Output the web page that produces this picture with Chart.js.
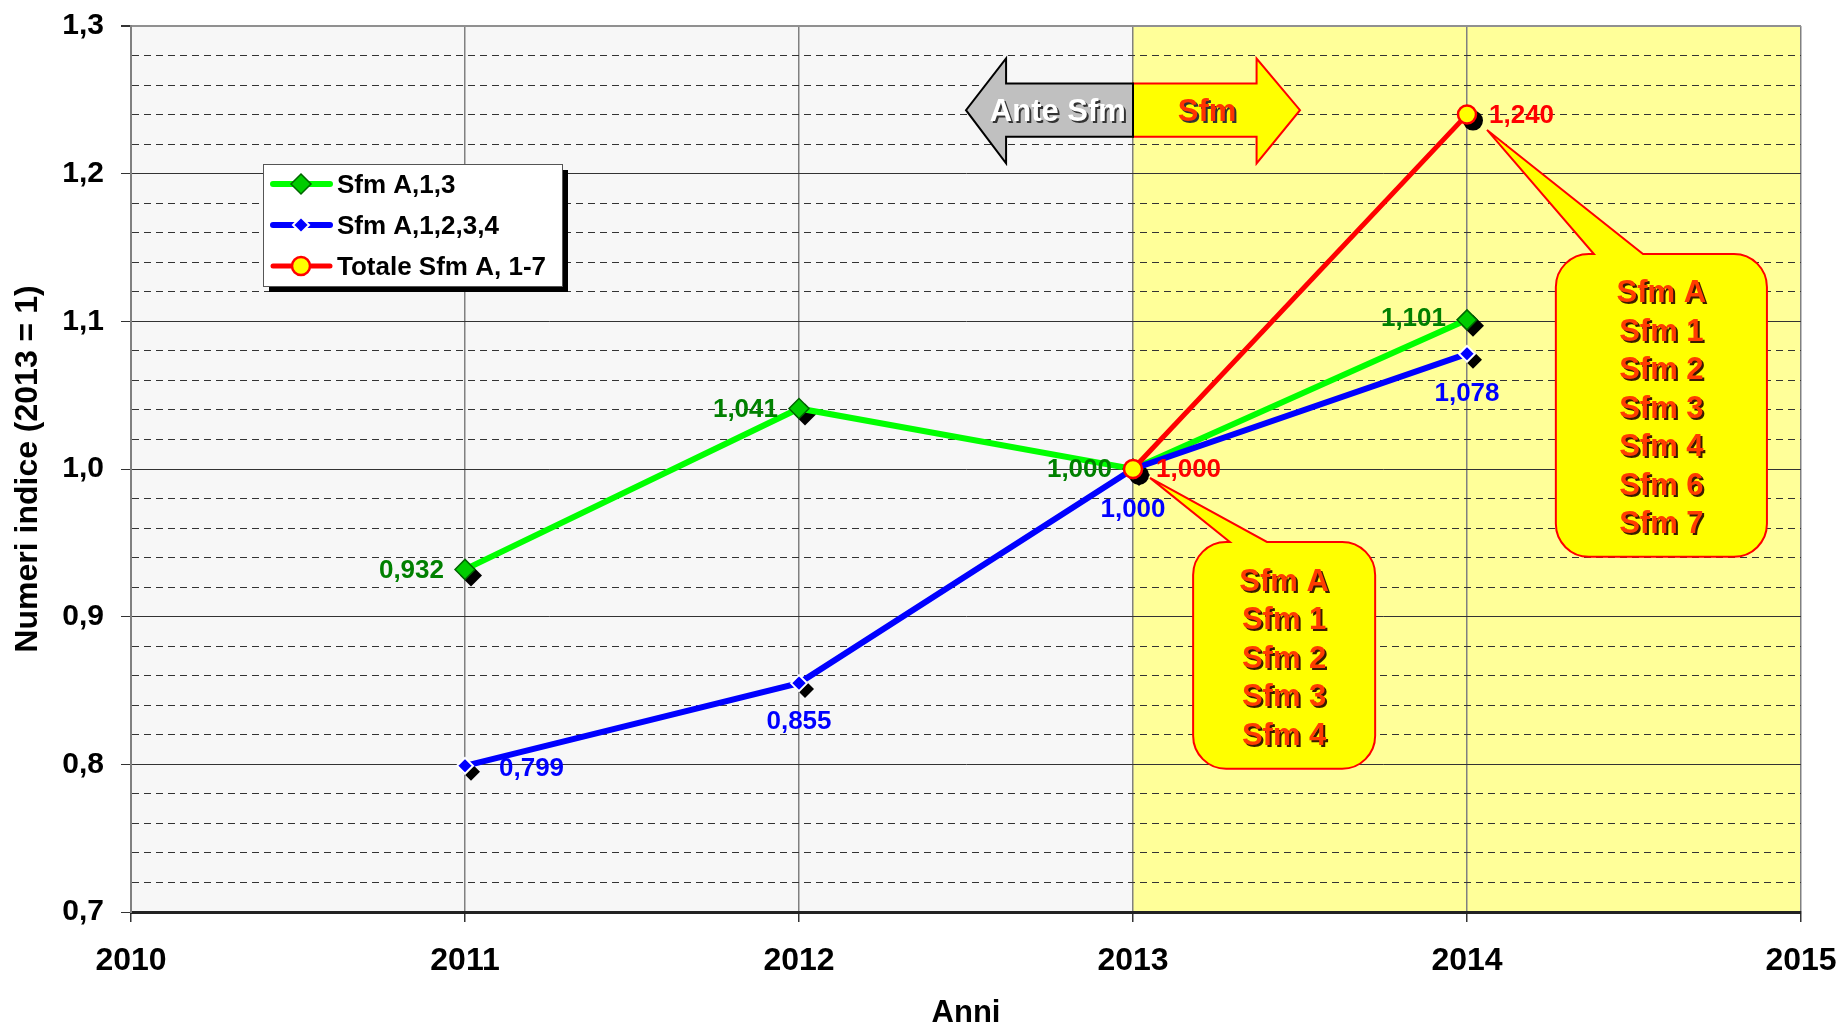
<!DOCTYPE html>
<html>
<head>
<meta charset="utf-8">
<script src="https://cdn.jsdelivr.net/npm/chart.js@4.4.1/dist/chart.umd.min.js"></script>
<style>
body{margin:0;background:#fff;}
#wrap{width:1838px;height:1029px;}
</style>
</head>
<body>
<div id="wrap"><canvas id="chart"></canvas></div>
<script>
// dati
const anni = [2011, 2012, 2013, 2014];
const sfmA13 = [0.932, 1.041, 1.000, 1.101];
const sfmA1234 = [0.799, 0.855, 1.000, 1.078];
const anniTotale = [2013, 2014];
const totaleSfmA = [1.000, 1.240];
const yMajor = [0.7, 0.8, 0.9, 1.0, 1.1, 1.2, 1.3];
const fumetto1 = ['Sfm A', 'Sfm 1', 'Sfm 2', 'Sfm 3', 'Sfm 4'];
const fumetto2 = ['Sfm A', 'Sfm 1', 'Sfm 2', 'Sfm 3', 'Sfm 4', 'Sfm 6', 'Sfm 7'];

const FONT = "'Liberation Sans', Arial, sans-serif";
Chart.defaults.font.family = FONT;
Chart.defaults.color = '#000';

function punti(xs, ys){
	return xs.map((x, i) => ({x: x, y: ys[i]}));
}
function isMajor(v){
	return yMajor.some(m => Math.abs(m - v) < 1e-6);
}
function virgola(v, d){
	return v.toFixed(d).replace('.', ',');
}
function rombo(ctx, x, y, r){
	ctx.beginPath();
	ctx.moveTo(x, y - r);
	ctx.lineTo(x + r, y);
	ctx.lineTo(x, y + r);
	ctx.lineTo(x - r, y);
	ctx.closePath();
}
function cerchio(ctx, x, y, r){
	ctx.beginPath();
	ctx.arc(x, y, r, 0, Math.PI * 2);
	ctx.closePath();
}
function forma(ctx, stile, x, y, r){
	if(stile === 'circle') cerchio(ctx, x, y, r);
	else rombo(ctx, x, y, r);
}
function testoOmbra(ctx, txt, x, y, col, ombra){
	ctx.fillStyle = ombra;
	ctx.fillText(txt, x + 2, y + 2);
	ctx.fillStyle = col;
	ctx.fillText(txt, x, y);
}

// sfondo grigio / giallo
const sfondo = {
	id: 'sfondo',
	beforeDraw(chart){
		const {ctx, chartArea: a, scales: {x}} = chart;
		const x13 = x.getPixelForValue(2013);
		ctx.save();
		ctx.fillStyle = '#f7f7f7';
		ctx.fillRect(a.left, a.top, x13 - a.left, a.height);
		ctx.fillStyle = '#ffff99';
		ctx.fillRect(x13, a.top, a.right - x13, a.height);
		ctx.restore();
	}
};

// frecce, fumetti e ombre dei marker
const annotazioni = {
	id: 'annotazioni',
	beforeDatasetsDraw(chart){
		const {ctx, scales: {x, y}} = chart;
		const px = v => x.getPixelForValue(v);
		const py = v => y.getPixelForValue(v);
		ctx.save();

		// frecce
		const sT = py(1.261), sB = py(1.225), hT = py(1.278), hB = py(1.207), mid = (sT + sB) / 2;
		const freccia = (xEnd, xBase, xTip, fill, stroke) => {
			ctx.beginPath();
			ctx.moveTo(px(xEnd), sT);
			ctx.lineTo(px(xBase), sT);
			ctx.lineTo(px(xBase), hT);
			ctx.lineTo(px(xTip), mid);
			ctx.lineTo(px(xBase), hB);
			ctx.lineTo(px(xBase), sB);
			ctx.lineTo(px(xEnd), sB);
			ctx.closePath();
			ctx.fillStyle = fill;
			ctx.fill();
			ctx.lineWidth = 2;
			ctx.strokeStyle = stroke;
			ctx.stroke();
		};
		freccia(2013, 2013.37, 2013.5, '#ffff00', '#ff0000');
		freccia(2013, 2012.62, 2012.5, '#c0c0c0', '#000000');
		ctx.font = 'bold 31px ' + FONT;
		ctx.textAlign = 'center';
		ctx.textBaseline = 'middle';
		testoOmbra(ctx, 'Ante Sfm', px(2012.775), mid + 2, '#ffffff', '#333333');
		testoOmbra(ctx, 'Sfm', px(2013.222), mid + 2, '#ff3300', '#333333');

		// fumetti
		const fumetto = (righe, l, r, t, b, tip, b1, b2) => {
			const L = px(l), R = px(r), T = py(t), B = py(b), rad = 33;
			ctx.beginPath();
			ctx.moveTo(L + rad, T);
			ctx.lineTo(px(b1), T);
			ctx.lineTo(px(tip[0]), py(tip[1]));
			ctx.lineTo(px(b2), T);
			ctx.lineTo(R - rad, T);
			ctx.arcTo(R, T, R, T + rad, rad);
			ctx.lineTo(R, B - rad);
			ctx.arcTo(R, B, R - rad, B, rad);
			ctx.lineTo(L + rad, B);
			ctx.arcTo(L, B, L, B - rad, rad);
			ctx.lineTo(L, T + rad);
			ctx.arcTo(L, T, L + rad, T, rad);
			ctx.closePath();
			ctx.fillStyle = '#ffff00';
			ctx.fill();
			ctx.lineWidth = 2;
			ctx.strokeStyle = '#ff0000';
			ctx.stroke();
			ctx.font = 'bold 31px ' + FONT;
			ctx.textAlign = 'center';
			ctx.textBaseline = 'middle';
			const passo = 38.5;
			const y0 = (T + B) / 2 - passo * (righe.length - 1) / 2;
			righe.forEach((s, i) => testoOmbra(ctx, s, (L + R) / 2, y0 + i * passo + 4, '#ff3c00', '#3a1a00'));
		};
		fumetto(fumetto1, 2013.18, 2013.725, 0.9506, 0.797, [2013.051, 0.994], 2013.29, 2013.401);
		fumetto(fumetto2, 2014.266, 2014.898, 1.1456, 0.9405, [2014.06, 1.2296], 2014.38, 2014.527);

		// ombre dei marker
		ctx.fillStyle = '#000';
		chart.data.datasets.forEach((ds, i) => {
			const meta = chart.getDatasetMeta(i);
			meta.data.forEach(p => {
				forma(ctx, ds.pointStyle, p.x + 6, p.y + 6, ds.pointRadius + 1);
				ctx.fill();
			});
		});
		ctx.restore();
	}
};

// etichette dei valori e legenda
const etichette = {
	id: 'etichette',
	afterDatasetsDraw(chart){
		const {ctx, chartArea: a} = chart;
		ctx.save();
		ctx.font = 'bold 26px ' + FONT;
		ctx.textBaseline = 'middle';
		chart.data.datasets.forEach((ds, i) => {
			const meta = chart.getDatasetMeta(i);
			meta.data.forEach((p, j) => {
				const pos = ds.labelPlace[j];
				ctx.textAlign = pos.align;
				ctx.fillStyle = ds.labelColor;
				ctx.fillText(virgola(ds.data[j].y, 3), p.x + pos.dx, p.y + pos.dy);
			});
		});

		// legenda
		const L = a.left + 132, T = a.top + 138, W = 299, H = 122;
		ctx.fillStyle = '#000';
		ctx.fillRect(L + 6, T + 6, W, H);
		ctx.fillStyle = '#fff';
		ctx.fillRect(L, T, W, H);
		ctx.lineWidth = 1;
		ctx.strokeStyle = '#555';
		ctx.strokeRect(L + 0.5, T + 0.5, W, H);
		ctx.textAlign = 'left';
		chart.data.datasets.forEach((ds, i) => {
			const yy = T + 20 + i * 41;
			ctx.lineCap = 'round';
			ctx.lineWidth = ds.borderWidth;
			ctx.strokeStyle = ds.borderColor;
			ctx.beginPath();
			ctx.moveTo(L + 10, yy);
			ctx.lineTo(L + 67, yy);
			ctx.stroke();
			forma(ctx, ds.pointStyle, L + 38, yy, ds.pointRadius);
			ctx.fillStyle = ds.pointBackgroundColor;
			ctx.fill();
			ctx.lineWidth = ds.pointBorderWidth;
			ctx.strokeStyle = ds.pointBorderColor;
			ctx.stroke();
			ctx.fillStyle = '#000';
			ctx.fillText(ds.label, L + 74, yy + 2);
		});
		ctx.restore();
	}
};

const config = {
	type: 'line',
	data: {
		datasets: [
			{
				label: 'Sfm A,1,3',
				data: punti(anni, sfmA13),
				borderColor: '#00ff00',
				borderWidth: 6,
				pointStyle: 'rectRot',
				pointRadius: 10,
				pointBackgroundColor: '#00cc00',
				pointBorderColor: '#006600',
				pointBorderWidth: 1.5,
				labelColor: '#008000',
				labelPlace: [
					{align: 'right', dx: -21, dy: 1},
					{align: 'right', dx: -21, dy: 1},
					{align: 'right', dx: -21, dy: 1},
					{align: 'right', dx: -21, dy: -1},
				],
				order: 3,
			},
			{
				label: 'Sfm A,1,2,3,4',
				data: punti(anni, sfmA1234),
				borderColor: '#0000ff',
				borderWidth: 6,
				pointStyle: 'rectRot',
				pointRadius: 8,
				pointBackgroundColor: '#0000ff',
				pointBorderColor: '#ffffff',
				pointBorderWidth: 2,
				labelColor: '#0000ff',
				labelPlace: [
					{align: 'left', dx: 34, dy: 3},
					{align: 'center', dx: 0, dy: 39},
					{align: 'center', dx: 0, dy: 41},
					{align: 'center', dx: 0, dy: 40},
				],
				order: 2,
			},
			{
				label: 'Totale Sfm A, 1-7',
				data: punti(anniTotale, totaleSfmA),
				borderColor: '#ff0000',
				borderWidth: 5,
				pointStyle: 'circle',
				pointRadius: 9,
				pointBackgroundColor: '#ffff00',
				pointBorderColor: '#ff0000',
				pointBorderWidth: 2.5,
				labelColor: '#ff0000',
				labelPlace: [
					{align: 'left', dx: 23, dy: 1},
					{align: 'left', dx: 22, dy: 1},
				],
				order: 1,
			},
		]
	},
	options: {
		responsive: true,
		maintainAspectRatio: false,
		animation: false,
		layout: {
			padding: {top: 26, right: 37, left: 0, bottom: 0}
		},
		elements: {
			line: {tension: 0}
		},
		plugins: {
			legend: {display: false},
			tooltip: {enabled: false},
		},
		scales: {
			x: {
				type: 'linear',
				min: 2010,
				max: 2015,
				afterFit(scale){
					scale.height = 117;
					scale.paddingLeft = 0;
					scale.paddingRight = 0;
				},
				ticks: {
					stepSize: 1,
					padding: 20,
					font: {size: 32, weight: 'bold'},
					callback: v => String(v),
				},
				grid: {
					color: '#808080',
					lineWidth: 1.5,
					tickLength: 10,
					tickColor: '#333',
				},
				border: {color: '#222', width: 3},
				title: {
					display: true,
					text: 'Anni',
					font: {size: 31, weight: 'bold', lineHeight: 1},
					padding: {top: 0, bottom: 0},
				},
			},
			y: {
				min: 0.7,
				max: 1.3,
				afterFit(scale){
					scale.width = 131;
					scale.paddingTop = 0;
					scale.paddingBottom = 0;
				},
				ticks: {
					stepSize: 0.02,
					autoSkip: false,
					padding: 17,
					font: {size: 30, weight: 'bold'},
					callback: v => isMajor(v) ? virgola(v, 1) : '',
				},
				grid: {
					tickLength: 10,
					color: c => (c.tick && Math.abs(c.tick.value - 1.3) < 1e-6) ? '#909090' : '#333',
					lineWidth: c => (c.tick && Math.abs(c.tick.value - 1.3) < 1e-6) ? 2 : 1,
					tickColor: c => (c.tick && isMajor(c.tick.value)) ? '#333' : 'rgba(0,0,0,0)',
				},
				border: {
					color: '#808080',
					width: 2,
					dash: c => (c.tick && !isMajor(c.tick.value)) ? [7, 5] : [],
				},
				title: {
					display: true,
					text: 'Numeri indice (2013 = 1)',
					font: {size: 32, weight: 'bold', lineHeight: 1},
					padding: {top: 12, bottom: 0},
				},
			}
		}
	},
	plugins: [sfondo, annotazioni, etichette]
};

window.addEventListener('load', () => {
	const ctx = document.getElementById('chart').getContext('2d');
	const myChart = new Chart(ctx, config);
});
</script>
</body>
</html>
